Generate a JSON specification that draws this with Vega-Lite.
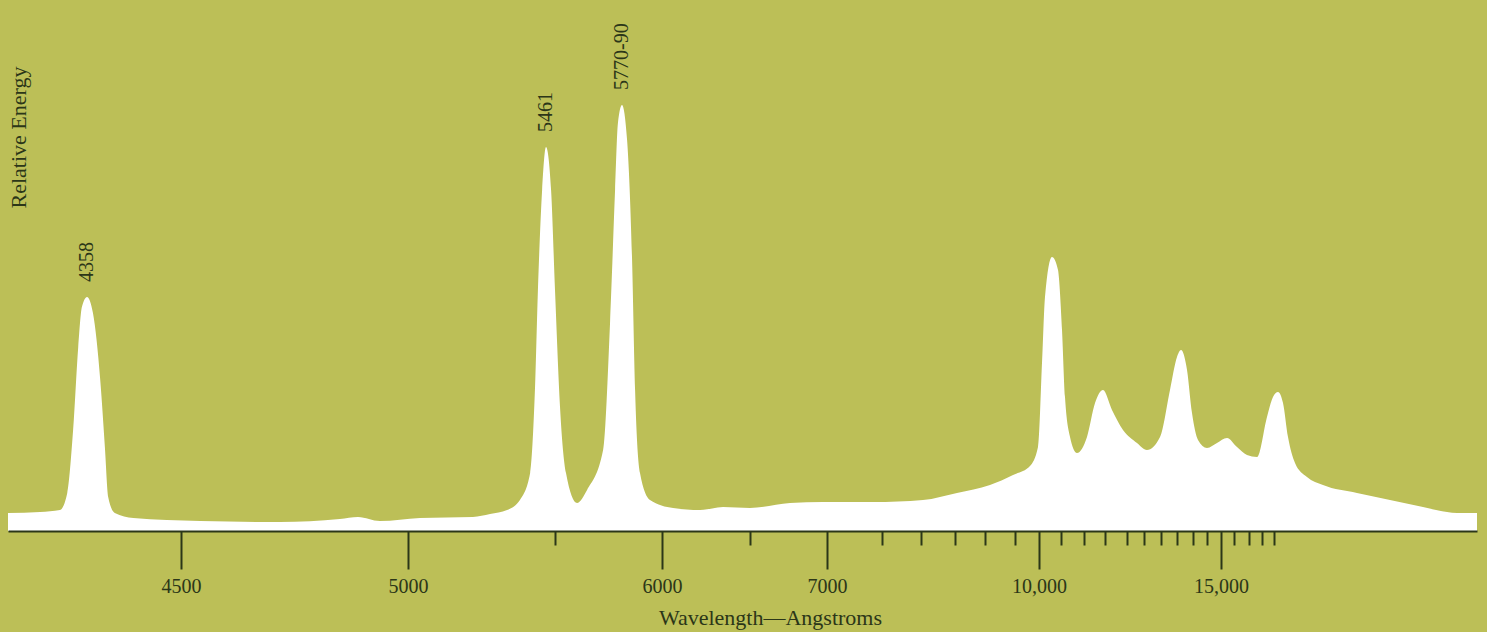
{
  "$schema": "https://vega.github.io/schema/vega-lite/v6.json",
  "width": 1469,
  "height": 531,
  "autosize": {"type": "none"},
  "padding": {"left": 8, "top": 0, "right": 10, "bottom": 101},
  "background": "#bcbf57",
  "config": {"view": {"stroke": null}},
  "datasets": {
    "spectrum": [
      {"wl": 4250, "energy": 3.39}, {"wl": 4294, "energy": 3.58}, {"wl": 4321, "energy": 3.95},
      {"wl": 4331, "energy": 7.16}, {"wl": 4339, "energy": 19.02}, {"wl": 4346, "energy": 34.65},
      {"wl": 4351, "energy": 42.18}, {"wl": 4358, "energy": 44.07}, {"wl": 4367, "energy": 41.05},
      {"wl": 4378, "energy": 28.44}, {"wl": 4385, "energy": 15.82}, {"wl": 4390, "energy": 6.4},
      {"wl": 4400, "energy": 3.39}, {"wl": 4428, "energy": 2.45}, {"wl": 4542, "energy": 1.88},
      {"wl": 4718, "energy": 1.69}, {"wl": 4850, "energy": 2.26}, {"wl": 4890, "energy": 2.64},
      {"wl": 4938, "energy": 1.88}, {"wl": 5040, "energy": 2.45}, {"wl": 5217, "energy": 2.64},
      {"wl": 5274, "energy": 3.2}, {"wl": 5331, "energy": 3.95}, {"wl": 5374, "energy": 5.84},
      {"wl": 5408, "energy": 10.92}, {"wl": 5424, "energy": 26.55}, {"wl": 5434, "energy": 45.39},
      {"wl": 5448, "energy": 64.22}, {"wl": 5461, "energy": 72.32}, {"wl": 5483, "energy": 64.22},
      {"wl": 5500, "energy": 45.39}, {"wl": 5521, "energy": 23.35}, {"wl": 5546, "energy": 10.92},
      {"wl": 5592, "energy": 5.27}, {"wl": 5634, "energy": 7.72}, {"wl": 5701, "energy": 15.25},
      {"wl": 5730, "energy": 39.17}, {"wl": 5751, "energy": 64.22}, {"wl": 5763, "energy": 76.84},
      {"wl": 5780, "energy": 80.23}, {"wl": 5808, "energy": 73.63}, {"wl": 5835, "energy": 51.6},
      {"wl": 5852, "energy": 26.55}, {"wl": 5879, "energy": 10.92}, {"wl": 5934, "energy": 5.84},
      {"wl": 6063, "energy": 4.33}, {"wl": 6216, "energy": 3.95}, {"wl": 6347, "energy": 4.52},
      {"wl": 6500, "energy": 4.33}, {"wl": 6760, "energy": 5.27}, {"wl": 6974, "energy": 5.46},
      {"wl": 7418, "energy": 5.46}, {"wl": 8029, "energy": 5.84}, {"wl": 8533, "energy": 7.16},
      {"wl": 9083, "energy": 8.66}, {"wl": 9467, "energy": 10.55}, {"wl": 9812, "energy": 12.24},
      {"wl": 9979, "energy": 15.82}, {"wl": 10068, "energy": 31.64}, {"wl": 10136, "energy": 44.07},
      {"wl": 10295, "energy": 51.6}, {"wl": 10432, "energy": 49.15}, {"wl": 10522, "energy": 37.85},
      {"wl": 10587, "energy": 25.24}, {"wl": 10696, "energy": 17.7}, {"wl": 10848, "energy": 14.69},
      {"wl": 11071, "energy": 17.7}, {"wl": 11262, "energy": 24.11}, {"wl": 11452, "energy": 26.55},
      {"wl": 11659, "energy": 22.79}, {"wl": 11909, "energy": 19.02}, {"wl": 12294, "energy": 16.57},
      {"wl": 12588, "energy": 15.25}, {"wl": 12971, "energy": 17.7}, {"wl": 13281, "energy": 26.55},
      {"wl": 13500, "energy": 32.77}, {"wl": 13625, "energy": 34.09}, {"wl": 13813, "energy": 30.32},
      {"wl": 13969, "energy": 22.22}, {"wl": 14179, "energy": 17.14}, {"wl": 14500, "energy": 15.63},
      {"wl": 14857, "energy": 16.57}, {"wl": 15231, "energy": 17.51}, {"wl": 15600, "energy": 15.82},
      {"wl": 15933, "energy": 14.31}, {"wl": 16308, "energy": 13.94}, {"wl": 16708, "energy": 21.47},
      {"wl": 16958, "energy": 25.24}, {"wl": 17158, "energy": 26.18}, {"wl": 17355, "energy": 24.11},
      {"wl": 17552, "energy": 17.7}, {"wl": 17828, "energy": 12.81}, {"wl": 18300, "energy": 10.17},
      {"wl": 18931, "energy": 8.66}, {"wl": 20271, "energy": 7.16}, {"wl": 21572, "energy": 5.84},
      {"wl": 22872, "energy": 4.52}, {"wl": 23818, "energy": 3.58}, {"wl": 24212, "energy": 3.39},
      {"wl": 25000, "energy": 3.39}
    ],
    "peaks": [
      {"line": "4358", "wl": 4358, "energy": 44.07},
      {"line": "5461", "wl": 5461, "energy": 72.32},
      {"line": "5770-90", "wl": 5780, "energy": 80.23}
    ]
  },
  "layer": [
    {
      "data": {"name": "spectrum"},
      "mark": {"type": "area", "color": "#ffffff", "interpolate": "monotone", "opacity": 1},
      "encoding": {
        "x": {
          "field": "wl", "type": "quantitative",
          "scale": {
            "domain": [4250, 4358, 4500, 5000, 5461, 5500, 5780, 6000, 6500, 7000, 7500, 8000, 8500, 9000, 9500, 10000, 10500, 11000, 11500, 12000, 12500, 13000, 13500, 14000, 14500, 15000, 15500, 16000, 16500, 17000, 25000],
            "range": [0, 79, 173, 400, 538, 547, 614, 654, 742, 819, 874, 913, 947, 977, 1007, 1031, 1053, 1076, 1097, 1119, 1136, 1153, 1169, 1185, 1199, 1213, 1226, 1241, 1254, 1266, 1469],
            "nice": false, "zero": false
          },
          "axis": {
            "values": [4500, 5000, 6000, 7000, 10000, 15000],
            "labelExpr": "datum.value >= 10000 ? format(datum.value, ',') : format(datum.value, 'd')",
            "tickSize": 38, "tickWidth": 2, "tickColor": "#2b3618",
            "domainColor": "#2b3618", "domainWidth": 2,
            "labelFont": "Liberation Serif", "labelFontSize": 20, "labelColor": "#2b3618",
            "labelBaseline": "alphabetic", "labelPadding": 23, "labelFlush": false, "labelOverlap": false,
            "grid": false,
            "title": "Wavelength—Angstroms",
            "titleFont": "Liberation Serif", "titleFontSize": 22, "titleFontWeight": "normal", "titleColor": "#2b3618",
            "titleX": 762, "titleY": 93, "titleAlign": "center", "titleBaseline": "alphabetic",
            "zindex": 1
          }
        },
        "y": {
          "field": "energy", "type": "quantitative",
          "scale": {"domain": [0, 100], "nice": false, "zero": true},
          "axis": {
            "title": "Relative Energy", "domain": false, "ticks": false, "labels": false, "grid": false,
            "titleFont": "Liberation Serif", "titleFontSize": 22, "titleFontWeight": "normal", "titleColor": "#2b3618",
            "titleAngle": 270, "titleX": 10, "titleY": 137, "titleAlign": "center", "titleBaseline": "middle"
          }
        }
      }
    },
    {
      "data": {"name": "peaks"},
      "mark": {"type": "text", "angle": 270, "align": "left", "baseline": "middle", "dx": 15, "font": "Liberation Serif", "fontSize": 20, "color": "#2b3618"},
      "encoding": {
        "x": {
          "field": "wl", "type": "quantitative",
          "scale": {
            "domain": [4250, 4358, 4500, 5000, 5461, 5500, 5780, 6000, 6500, 7000, 7500, 8000, 8500, 9000, 9500, 10000, 10500, 11000, 11500, 12000, 12500, 13000, 13500, 14000, 14500, 15000, 15500, 16000, 16500, 17000, 25000],
            "range": [0, 79, 173, 400, 538, 547, 614, 654, 742, 819, 874, 913, 947, 977, 1007, 1031, 1053, 1076, 1097, 1119, 1136, 1153, 1169, 1185, 1199, 1213, 1226, 1241, 1254, 1266, 1469],
            "nice": false, "zero": false
          },
          "axis": {
            "orient": "bottom",
            "values": [5500, 6500, 7500, 8000, 8500, 9000, 9500, 10500, 11000, 11500, 12000, 12500, 13000, 13500, 14000, 14500, 15500, 16000, 16500, 17000],
            "tickSize": 14, "tickWidth": 2, "tickColor": "#2b3618",
            "domain": false, "labels": false, "grid": false, "title": null, "zindex": 1
          }
        },
        "y": {
          "field": "energy", "type": "quantitative",
          "scale": {"domain": [0, 100], "nice": false, "zero": true},
          "axis": {
            "title": "Relative Energy", "domain": false, "ticks": false, "labels": false, "grid": false,
            "titleFont": "Liberation Serif", "titleFontSize": 22, "titleFontWeight": "normal", "titleColor": "#2b3618",
            "titleAngle": 270, "titleX": 10, "titleY": 137, "titleAlign": "center", "titleBaseline": "middle"
          }
        },
        "text": {"field": "line", "type": "nominal"}
      }
    }
  ],
  "resolve": {"axis": {"x": "independent"}}
}
